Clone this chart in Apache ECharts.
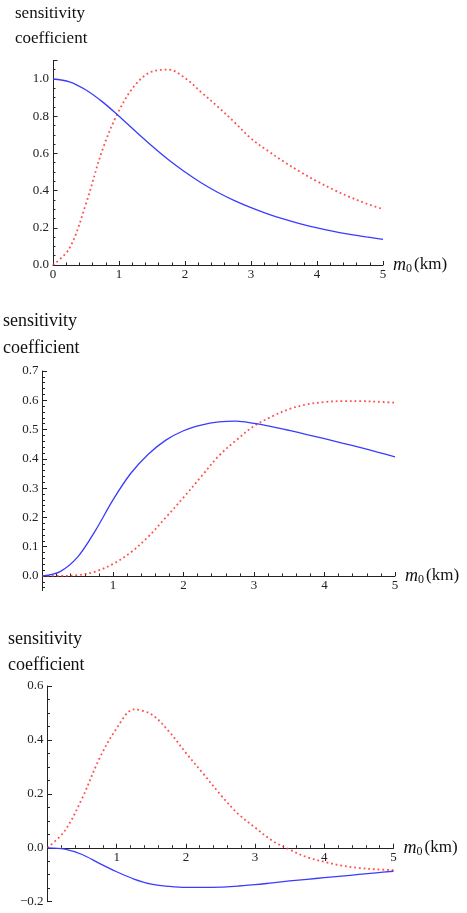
<!DOCTYPE html>
<html><head><meta charset="utf-8">
<script src="https://cdn.jsdelivr.net/npm/echarts@6/dist/echarts.min.js"></script>
<style>html,body{margin:0;padding:0;background:#fff}#c{width:467px;height:913px}</style>
</head><body><div id="c"></div>
<script>
// shared x positions (m0 in km)
const xs = [0,0.25,0.5,0.75,1,1.25,1.5,1.75,2,2.25,2.5,2.75,3,3.25,3.5,3.75,4,4.25,4.5,4.75,5];
// panel 1
const p1Blue = [1.000,0.985,0.941,0.877,0.800,0.719,0.640,0.566,0.500,0.441,0.390,0.346,0.308,0.275,0.246,0.221,0.200,0.181,0.165,0.151,0.138];
const p1Red  = [0,0.09,0.33,0.62,0.83,0.97,1.04,1.05,1.005,0.928,0.85,0.767,0.68,0.615,0.555,0.50,0.45,0.405,0.365,0.33,0.30];
// panel 2
const p2Blue = [0,0.015,0.065,0.155,0.26,0.35,0.416,0.464,0.496,0.515,0.526,0.529,0.521,0.510,0.497,0.483,0.469,0.454,0.439,0.423,0.407];
const p2Red  = [0,0,0.003,0.015,0.041,0.08,0.134,0.2,0.268,0.339,0.41,0.464,0.512,0.544,0.57,0.586,0.594,0.597,0.597,0.595,0.592];
// panel 3
const p3Blue = [0,-0.005,-0.025,-0.058,-0.089,-0.116,-0.135,-0.143,-0.147,-0.147,-0.146,-0.142,-0.137,-0.130,-0.123,-0.117,-0.111,-0.105,-0.099,-0.093,-0.087];
const p3Red  = [0,0.063,0.183,0.331,0.443,0.513,0.495,0.433,0.352,0.275,0.197,0.127,0.075,0.026,-0.007,-0.035,-0.052,-0.066,-0.075,-0.08,-0.083];

// tick labels
const xMajor = [0,1,2,3,4,5];
const xLabels1 = [0,1,2,3,4,5];
const xLabels23 = [1,2,3,4,5];
const y1Labels = [0,0.2,0.4,0.6,0.8,1.0];
const y2Labels = [0,0.1,0.2,0.3,0.4,0.5,0.6,0.7];
const y3Labels = [-0.2,0,0.2,0.4,0.6];
const yTitle = ['sensitivity','coefficient'];
const xTitle = '{m|m}{s|0}{k|(km)}';

function steps(a,b,s){const out=[];const n=Math.round((b-a)/s);for(let i=0;i<=n;i++)out.push(+(a+i*s).toFixed(4));return out;}

const AX = '#222';
const SERIF = '"Liberation Serif", "Times New Roman", serif';
const panels = [
  {grid:{left:53, top:60.4, width:330, height:204.6}, ymin:0, ymax:1.1, yMajor:y1Labels.concat([1.1]), yMinor:steps(0,1.1,0.05), yLab:y1Labels, xLab:xLabels1, blue:p1Blue, red:p1Red},
  {grid:{left:42.5, top:371, width:352.5, height:219.6}, ymin:-0.05, ymax:0.7, yMajor:y2Labels, yMinor:steps(-0.04,0.7,0.02), yLab:y2Labels, xLab:xLabels23, blue:p2Blue, red:p2Red},
  {grid:{left:47.5, top:686, width:346, height:215.7}, ymin:-0.2, ymax:0.6, yMajor:y3Labels, yMinor:steps(-0.2,0.6,0.05), yLab:y3Labels, xLab:xLabels23, blue:p3Blue, red:p3Red}
];

const grid=[], xAxis=[], yAxis=[], series=[];
panels.forEach((p,i)=>{
  grid.push(Object.assign({containLabel:false}, p.grid));
  const common = {type:'value', gridIndex:i, splitLine:{show:false}};
  // place x axis on y = 0
  const off = -p.grid.height * (0 - p.ymin) / (p.ymax - p.ymin);
  xAxis.push(Object.assign({}, common, {
    min:0, max:5, position:'bottom', offset:off,
    axisLine:{show:true, onZero:false, lineStyle:{color:AX, width:1}},
    axisTick:{show:true, inside:true, length:4, customValues:xMajor, lineStyle:{color:AX, width:1}},
    axisLabel:{show:true, customValues:p.xLab, margin:3, fontFamily:SERIF, fontSize:13, color:'#222'},
    name:xTitle, nameLocation:'end', nameGap:10,
    nameTextStyle:{fontFamily:SERIF, fontSize:17, color:'#111', verticalAlign:'middle', align:'left',
      rich:{m:{fontFamily:SERIF, fontStyle:'italic', fontSize:18, lineHeight:20, color:'#111'},
            s:{fontFamily:SERIF, fontSize:12, lineHeight:8, verticalAlign:'bottom', padding:[0,2,0,0], color:'#111'},
            k:{fontFamily:SERIF, fontSize:17, lineHeight:20, color:'#111'}}}
  }));
  xAxis.push(Object.assign({}, common, {
    min:0, max:5, position:'bottom', offset:off,
    axisLine:{show:false, onZero:false},
    axisTick:{show:true, inside:true, length:2.5, customValues:steps(0,5,0.2), lineStyle:{color:AX, width:1}},
    axisLabel:{show:false}
  }));
  yAxis.push(Object.assign({}, common, {
    min:p.ymin, max:p.ymax, position:'left',
    axisLine:{show:true, onZero:false, lineStyle:{color:AX, width:1}},
    axisTick:{show:true, inside:true, length:4.5, customValues:p.yMajor, lineStyle:{color:AX, width:1}},
    axisLabel:{show:true, customValues:p.yLab, margin:4, fontFamily:SERIF, fontSize:13, color:'#222',
      formatter:v=>v.toFixed(1).replace('-','\u2212')}
  }));
  yAxis.push(Object.assign({}, common, {
    min:p.ymin, max:p.ymax, position:'left',
    axisLine:{show:false, onZero:false},
    axisTick:{show:true, inside:true, length:2.5, customValues:p.yMinor, lineStyle:{color:AX, width:1}},
    axisLabel:{show:false}
  }));
  series.push({type:'line', xAxisIndex:2*i, yAxisIndex:2*i, data:xs.map((x,k)=>[x,p.blue[k]]),
    showSymbol:false, smooth:0.35, lineStyle:{color:'#3b3bff', width:1.3}, silent:true, z:3});
  series.push({type:'line', xAxisIndex:2*i, yAxisIndex:2*i, data:xs.map((x,k)=>[x,p.red[k]]),
    showSymbol:false, smooth:0.35, lineStyle:{color:'#ff3030', width:1.8, type:[1.8,2.9], opacity:0.85}, silent:true, z:2});
});

const titlePos = [[15,5,30],[3,312,339],[8,630,656]];
const titleSize = [17,18,18];
const graphic = [];
titlePos.forEach((t,i)=>{
  graphic.push({type:'text', left:t[0], top:t[1], style:{text:yTitle[0], font:titleSize[i]+'px '+SERIF, fill:'#111'}});
  graphic.push({type:'text', left:t[0], top:t[2], style:{text:yTitle[1], font:titleSize[i]+'px '+SERIF, fill:'#111'}});
});

const chart = echarts.init(document.getElementById('c'), null, {renderer:'canvas'});
chart.setOption({animation:false, backgroundColor:'#fff', grid, xAxis, yAxis, series, graphic});
</script></body></html>
